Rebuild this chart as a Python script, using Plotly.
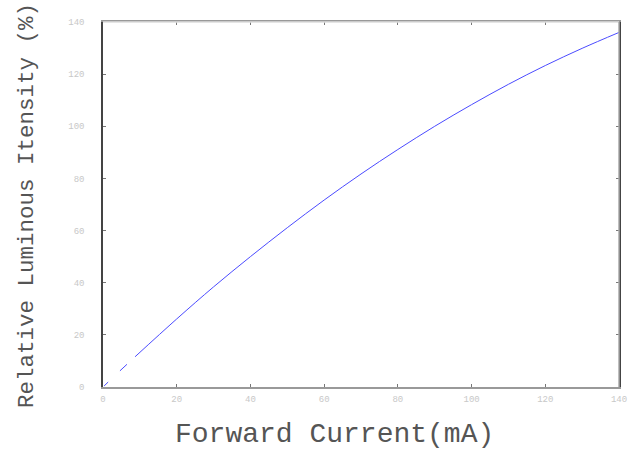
import plotly.graph_objects as go

# Data (None = gaps in the trace)
current_ma = [0.3, 1.4, None, 4.6, 6.5, None, 8.7, 20, 30, 40, 50, 60, 70, 80, 90, 100, 110, 120, 130, 140]
rel_intensity = [0.4, 1.9, None, 6.2, 8.7, None, 11.6, 26.1, 38.4, 50.0, 61.1, 71.7, 81.7, 91.1, 100.0, 108.3, 116.1, 123.3, 129.9, 136.0]

x_ticks = [0, 20, 40, 60, 80, 100, 120, 140]
y_ticks = [0, 20, 40, 60, 80, 100, 120, 140]
x_title = "Forward Current(mA)"
y_title = "Relative Luminous Itensity (%)"

fig = go.Figure()
fig.add_trace(go.Scatter(
    x=current_ma, y=rel_intensity, mode="lines",
    line=dict(color="#4b4bff", width=1, shape="spline"),
    connectgaps=False, showlegend=False, hoverinfo="skip"))

tickfont = dict(family="Liberation Mono", size=9, color="#c8c8c8")
fig.update_layout(
    width=634, height=452,
    margin=dict(l=103, r=15, t=22, b=65, autoexpand=False),
    paper_bgcolor="white", plot_bgcolor="white",
    xaxis=dict(range=[0, 140], tickvals=x_ticks, ticktext=[str(v) for v in x_ticks],
               showgrid=False, zeroline=False, showline=True, linecolor="#999999",
               linewidth=1.5, mirror="ticks", ticks="inside", ticklen=3, tickcolor="#777777",
               tickfont=tickfont, automargin=False, ticklabelstandoff=2),
    yaxis=dict(range=[0, 140], tickvals=y_ticks, ticktext=[str(v) for v in y_ticks],
               showgrid=False, zeroline=False, showline=True, linecolor="#444444",
               linewidth=1.5, mirror="ticks", ticks="inside", ticklen=3, tickcolor="#777777",
               tickfont=tickfont, automargin=False, ticklabelstandoff=15),
    shapes=[
        dict(type="line", xref="x domain", yref="y domain", x0=0, x1=1, y0=1, y1=1,
             line=dict(color="#dddddd", width=1.5), layer="above"),
        dict(type="line", xref="x domain", yref="y domain", x0=1, x1=1, y0=0, y1=1,
             line=dict(color="#aaaaaa", width=1.5), layer="above"),
    ],
    annotations=[
        dict(text=x_title, xref="paper", yref="paper", x=(334 - 103) / 516, y=-(435 - 387) / 365,
             xanchor="center", yanchor="middle", showarrow=False,
             font=dict(family="Liberation Mono", size=28, color="#555555")),
        dict(text=y_title, xref="paper", yref="paper", x=-(103 - 27) / 516, y=(387 - 206) / 365,
             xanchor="center", yanchor="middle", showarrow=False, textangle=-90,
             font=dict(family="Liberation Mono", size=22.5, color="#555555")),
    ],
)

fig.write_html("out.html", config={"displayModeBar": False},
               post_script="document.body.style.margin='0';document.body.style.overflow='hidden';")
